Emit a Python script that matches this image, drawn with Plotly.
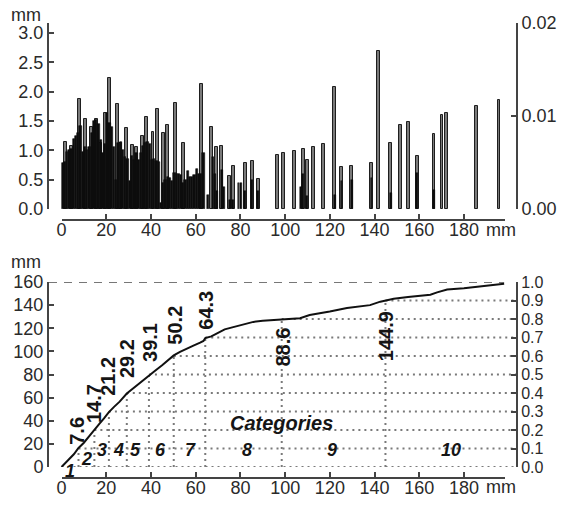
import plotly.graph_objects as go

W, H = 565, 505
FONT = "Liberation Sans, Arial, sans-serif"
TXT = "#2a2a2a"
AX = "#444444"

# ---------------- data: top panel (bars) ----------------
# dense black bars, 1 mm bins (bin centre, mm)
dense_x = [0.5, 1.5, 2.5, 3.5, 4.5, 5.5, 6.5, 7.5, 8.5, 9.5, 10.5, 11.5, 12.5, 13.5, 14.5, 15.5,
           16.5, 17.5, 18.5, 19.5, 20.5, 21.5, 22.5, 23.5, 24.5, 25.5, 26.5, 27.5, 28.5, 29.5, 30.5, 31.5,
           32.5, 33.5, 34.5, 35.5, 36.5, 37.5, 38.5, 39.5, 40.5, 41.5, 42.5, 43.5, 44.5, 45.5, 46.5, 47.5,
           48.5, 49.5, 50.5, 51.5, 52.5, 53.5, 54.5, 55.5, 56.5, 57.5, 58.5, 59.5, 60.5, 61.5, 62.5, 63.5]
dense_h = [0.78, 0.80, 0.98, 1.00, 1.03, 1.20, 1.25, 1.30, 1.42, 0.98, 1.05, 1.00, 1.05, 1.30, 1.50, 1.52,
           1.45, 1.18, 0.95, 1.10, 1.63, 1.46, 1.40, 1.06, 0.49, 1.12, 1.15, 1.00, 0.89, 0.85, 0.47, 0.90,
           0.84, 0.95, 0.84, 0.95, 1.08, 1.12, 1.15, 1.10, 0.83, 0.85, 0.81, 0.80, 0.10, 0.44, 0.50, 0.55,
           0.52, 0.47, 0.61, 0.60, 0.60, 0.58, 0.45, 0.49, 0.64, 0.55, 0.55, 0.58, 0.68, 0.60, 0.60, 0.95]

# scattered black bars beyond 64 mm
black_x = [65.5, 67.8, 68.8, 69.6, 71.8, 72.6, 75.4, 76.8, 79.2, 80.2, 82.0, 85.2, 87.8,
           107.2, 107.9, 109.9, 122.2, 125.2, 129.9, 138.7, 147.4, 159.1, 166.6]
black_h = [0.24, 0.89, 0.60, 0.30, 0.66, 0.38, 0.15, 0.15, 0.45, 0.45, 0.30, 0.49, 0.30,
           0.37, 0.60, 0.22, 0.24, 0.47, 0.49, 0.52, 0.28, 0.61, 0.32]

# tall grey bars (spikes)
spike_x = [1.8, 4.6, 8.2, 10.6, 13.5, 15.6, 17.3, 19.8, 21.6, 24.9, 26.3, 29.2, 31.9, 33.6, 36.1,
           38.2, 40.9, 43.0, 45.7, 47.4, 50.8, 54.6, 62.5, 66.9, 69.4, 71.4, 75.2, 76.8, 82.1, 85.6,
           88.2, 96.7, 99.1, 104.2, 108.2, 110.0, 112.7, 117.2, 122.0, 125.3, 129.8, 138.7, 141.6,
           147.3, 151.5, 155.2, 159.1, 166.6, 170.2, 172.2, 185.6, 195.7]
spike_h = [1.15, 1.07, 1.87, 1.53, 1.40, 1.53, 1.12, 1.64, 2.24, 1.79, 1.12, 1.38, 1.09, 1.06, 1.24,
           1.57, 1.32, 1.70, 1.29, 1.43, 1.81, 1.13, 2.13, 1.40, 1.05, 1.07, 0.56, 0.73, 0.79, 0.82,
           0.51, 0.92, 0.95, 0.99, 1.02, 0.84, 1.06, 1.10, 2.08, 0.71, 0.74, 0.79, 2.69,
           1.12, 1.44, 1.48, 0.91, 1.27, 1.61, 1.63, 1.76, 1.86]

top_left_ticks = [0.0, 0.5, 1.0, 1.5, 2.0, 2.5, 3.0]
top_right_ticks = [0.00, 0.01, 0.02]
x_ticks = [0, 20, 40, 60, 80, 100, 120, 140, 160, 180]

# ---------------- data: bottom panel (cumulative curve) ----------------
curve_x = [0, 3, 5.5, 7.6, 10, 12.5, 14.7, 17, 19, 21.2, 23.5, 26, 29.2, 32, 35, 39.1, 42, 45, 48,
           50.2, 53, 56, 59, 62, 63.5, 64.3, 67, 70, 73, 76.8, 80, 85.8, 90, 94.6, 98, 103, 106.7,
           111, 116, 120, 127.7, 133, 138, 142.6, 148.6, 155, 160, 165, 168, 172.5, 180, 190, 198]
curve_y = [0, 6, 11, 16.5, 21, 27, 32.5, 37.5, 42, 47.5, 52, 56.5, 63.5, 68, 72.5, 79.5, 83.5, 88, 93,
           96.5, 99.5, 102.5, 105, 107.5, 109, 111.5, 113, 116, 119, 121, 122.5, 125.5, 126.5, 127,
           127.3, 128, 128.6, 131.5, 133.5, 134.5, 137.5, 139, 140, 143, 145.5, 147, 148, 149, 151,
           153.5, 154.6, 156.5, 158.5]

boundary_labels = ["7.6", "14.7", "21.2", "29.2", "39.1", "50.2", "64.3", "88.6", "144.9"]
# x where each boundary line is drawn in the picture (the "88.6" line sits near 98.5 mm)
boundary_x = [7.6, 14.7, 21.2, 29.2, 39.1, 50.2, 64.3, 98.5, 144.9]
boundary_frac = [0.1, 0.2, 0.3, 0.4, 0.5, 0.6, 0.7, 0.8, 0.9]
total_mm = 160

category_names = ["1", "2", "3", "4", "5", "6", "7", "8", "9", "10"]

bot_left_ticks = [0, 20, 40, 60, 80, 100, 120, 140, 160]
bot_right_ticks = [0.0, 0.1, 0.2, 0.3, 0.4, 0.5, 0.6, 0.7, 0.8, 0.9, 1.0]

# ---------------- layout geometry ----------------
def py(p):
    return (H - p) / H

X_RANGE = [-5.6, 203.3]
X_DOM = [49 / W, 516 / W]
XD_DOM = [61.5 / W, 505 / W]
XD_RANGE = [0, 198.3]

fig = go.Figure()

# top panel bars
fig.add_trace(go.Bar(x=spike_x, y=spike_h, width=1.3, xaxis="x", yaxis="y",
                     marker=dict(color="#7a7a7a", line=dict(color="#1e1e1e", width=1))))
fig.add_trace(go.Bar(x=dense_x, y=dense_h, width=1.0, xaxis="x", yaxis="y",
                     marker=dict(color="#0d0d0d", line=dict(color="#0d0d0d", width=0.6))))
fig.add_trace(go.Bar(x=black_x, y=black_h, width=0.8, xaxis="x", yaxis="y",
                     marker=dict(color="#0d0d0d", line=dict(color="#0d0d0d", width=0.5))))
# dummies to realise the extra axes
fig.add_trace(go.Scatter(x=[None], y=[None], xaxis="x", yaxis="y2", hoverinfo="skip"))
fig.add_trace(go.Scatter(x=[None], y=[None], xaxis="x2", yaxis="y", hoverinfo="skip"))

# bottom panel: dotted decile guides
gx, gy = [0, X_RANGE[1], None], [0, 0, None]
for bx, f in zip(boundary_x, boundary_frac):
    lvl = f * total_mm
    gx += [bx, bx, None, bx, X_RANGE[1], None]
    gy += [0, lvl, None, lvl, lvl, None]
fig.add_trace(go.Scatter(x=gx, y=gy, mode="lines", xaxis="x3", yaxis="y3", hoverinfo="skip",
                         line=dict(color="#7a7a7a", width=2, dash="2px,4px")))
# dashed total line
fig.add_trace(go.Scatter(x=[X_RANGE[0], curve_x[-1]], y=[total_mm, total_mm], mode="lines",
                         xaxis="x3", yaxis="y3", line=dict(color="#777777", width=2, dash="8px,7px")))
# cumulative curve
fig.add_trace(go.Scatter(x=curve_x, y=curve_y, mode="lines", xaxis="x3", yaxis="y3",
                         line=dict(color="#111111", width=2)))
fig.add_trace(go.Scatter(x=[None], y=[None], xaxis="x3", yaxis="y4", hoverinfo="skip"))
fig.add_trace(go.Scatter(x=[None], y=[None], xaxis="x4", yaxis="y3", hoverinfo="skip"))

tickfont = dict(family=FONT, size=18, color=TXT)
yax_common = dict(showline=True, linecolor=AX, linewidth=2, ticks="inside", ticklen=5,
                  tickcolor=AX, tickwidth=2, showgrid=False, zeroline=False,
                  fixedrange=True, automargin=False)
xd_common = dict(domain=XD_DOM, range=XD_RANGE, anchor="free", side="bottom",
                 tickvals=x_ticks, ticktext=[str(v) for v in x_ticks], showline=True,
                 linecolor=AX, linewidth=2, ticks="inside", ticklen=5, tickcolor=AX, tickwidth=2,
                 showgrid=False, zeroline=False, tickfont=tickfont, automargin=False,
                 ticklabelstandoff=-7)

fig.update_layout(
    template="none",
    width=W, height=H, margin=dict(l=0, r=0, t=0, b=0, pad=0), autosize=False,
    paper_bgcolor="white", plot_bgcolor="rgba(0,0,0,0)", showlegend=False,
    barmode="overlay", bargap=0,
    xaxis=dict(domain=X_DOM, range=X_RANGE, visible=False, anchor="y", automargin=False),
    yaxis=dict(domain=[py(209), py(23)], range=[0, 3.17], anchor="x", tickfont=tickfont,
               tickvals=top_left_ticks, ticktext=[f"{v:.1f}" for v in top_left_ticks], **yax_common),
    yaxis2=dict(overlaying="y", side="right", anchor="x", range=[0, 0.02], tickfont=tickfont,
                tickvals=top_right_ticks, ticktext=[f"{v:.2f}" for v in top_right_ticks], **yax_common),
    xaxis2=dict(position=py(220), **xd_common),
    xaxis3=dict(domain=X_DOM, range=X_RANGE, visible=False, anchor="y3", automargin=False),
    yaxis3=dict(domain=[py(467), py(282)], range=[0, 160], anchor="x3", tickfont=tickfont,
                tickvals=bot_left_ticks, ticktext=[str(v) for v in bot_left_ticks], **yax_common),
    yaxis4=dict(overlaying="y3", side="right", anchor="x3", range=[0, 1],
                tickfont=dict(family=FONT, size=16, color=TXT),
                tickvals=bot_right_ticks, ticktext=[f"{v:.1f}" for v in bot_right_ticks], **yax_common),
    xaxis4=dict(position=py(478), **xd_common),
)

ann = []
# unit labels
for (x, y, xa) in [(43, 15, "right"), (43, 262, "right"), (501, 230, "center"), (501, 487, "center")]:
    ann.append(dict(text="mm", xref="paper", yref="paper", x=x / W, y=py(y), xanchor=xa,
                    yanchor="middle", showarrow=False, font=dict(family=FONT, size=18, color=TXT)))

# rotated boundary labels (placement)
label_y = [31, 55, 78, 94, 108, 123, 136, 104, 113]
label_dx = [-0.4, 0.1, -0.4, 0.4, 0.4, 0.5, 0.3, 0.5, 0.6]
for t, bx, ly, dx in zip(boundary_labels, boundary_x, label_y, label_dx):
    ann.append(dict(text=t, xref="x3", yref="y3", x=bx + dx, y=ly, textangle=-90,
                    xanchor="center", yanchor="middle", showarrow=False,
                    font=dict(family=FONT, size=20, color="#151515", weight="bold")))

# category numbers (placement; shift in px)
cat_x = [4.0, 11.2, 18.2, 25.6, 33.0, 44.4, 57.8, 82.9, 121.0, 174.0]
cat_y = [0, 7.0, 14.7, 15, 15, 15, 15, 15, 15, 15]
cat_shift = [-4, 0, 0, 0, 0, 0, 0, 0, 0, 0]
for t, cx, cy, sh in zip(category_names, cat_x, cat_y, cat_shift):
    ann.append(dict(text=t, xref="x3", yref="y3", x=cx, y=cy, yshift=sh,
                    xanchor="center", yanchor="middle", showarrow=False,
                    font=dict(family=FONT, size=18, color="#151515", weight="bold", style="italic")))
ann.append(dict(text="Categories", xref="x3", yref="y3", x=98.6, y=38, xanchor="center",
                yanchor="middle", showarrow=False,
                font=dict(family=FONT, size=20, color="#151515", weight="bold", style="italic")))

fig.update_layout(annotations=ann)
fig.write_html("out.html", config={"displayModeBar": False},
               post_script="document.body.style.margin='0px';document.body.style.overflow='hidden';")
